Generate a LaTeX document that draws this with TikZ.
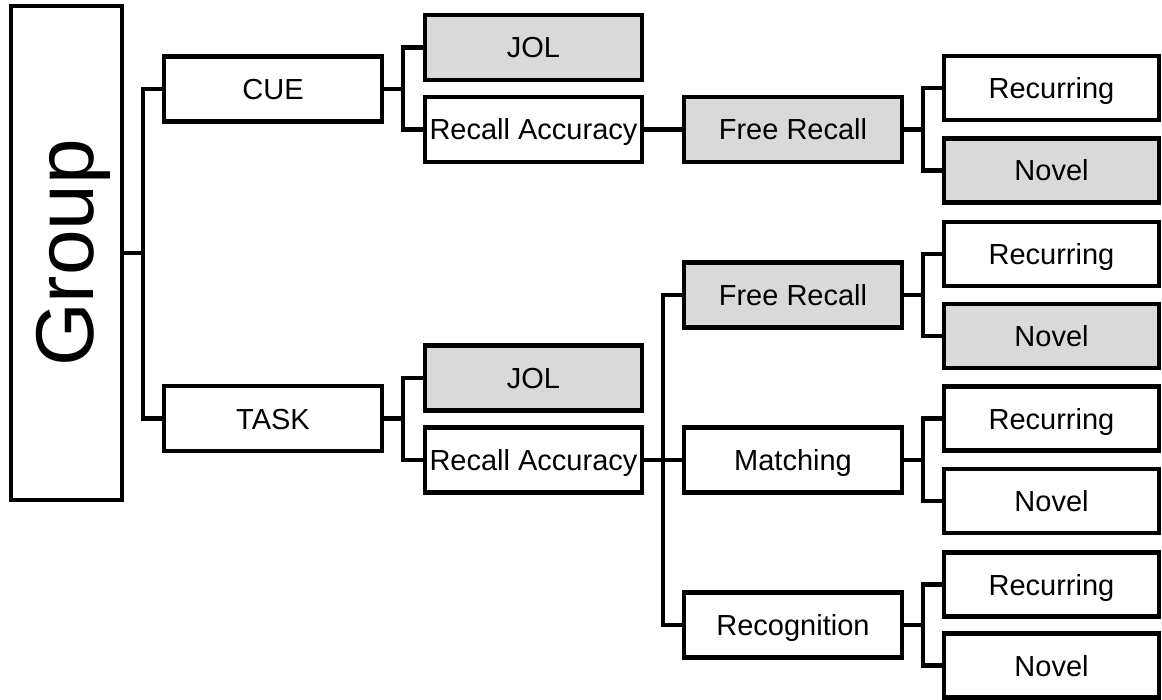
\documentclass[tikz,border=0pt]{standalone}
\usepackage{fontspec}
\setmainfont{Liberation Sans}
\definecolor{boxgray}{HTML}{D9D9D9}
\begin{document}
\begin{tikzpicture}[x=1pt,y=-1pt,
  box/.style={draw, line width=4.4pt, rectangle, inner sep=0pt, outer sep=0pt,
    font=\fontsize{29}{34}\selectfont, text height=21pt, text depth=0pt,
    minimum height=65pt},
  wide/.style={box, minimum width=218pt},
  right/.style={box, minimum width=215pt, minimum height=64pt},
  gray/.style={fill=boxgray},
  link/.style={line width=4.4pt, line join=miter}]
\useasboundingbox (0,0) rectangle (1162,700);
% root
\node[box, minimum width=111pt, minimum height=494pt] (group) at (66.5,253) {};
\node[rotate=90, anchor=base, inner sep=0pt, font=\fontsize{82}{90}\selectfont] (grouptxt) at (93,253) {Group};
% level 1
\node[wide] (cue) at (273,89) {CUE};
\node[wide] (task) at (273,418.5) {TASK};
% level 2
\node[wide, gray, minimum width=217pt] (jol1) at (533.5,47.5) {JOL};
\node[wide, minimum width=217pt] (ra1) at (533.5,129.5) {Recall Accuracy};
\node[wide, gray, minimum width=217pt] (jol2) at (533.5,378) {JOL};
\node[wide, minimum width=217pt] (ra2) at (533.5,460) {Recall Accuracy};
% level 3
\node[wide, gray] (fr1) at (793,129.5) {Free Recall};
\node[wide, gray] (fr2) at (793,295) {Free Recall};
\node[wide] (match) at (793,460) {Matching};
\node[wide] (recog) at (793,625) {Recognition};
% level 4
\node[right] (rec1) at (1051.5,88) {Recurring};
\node[right, gray] (nov1) at (1051.5,170.5) {Novel};
\node[right] (rec2) at (1051.5,254) {Recurring};
\node[right, gray] (nov2) at (1051.5,336) {Novel};
\node[right] (rec3) at (1051.5,418.5) {Recurring};
\node[right] (nov3) at (1051.5,501) {Novel};
\node[right] (rec4) at (1051.5,584.5) {Recurring};
\node[right] (nov4) at (1051.5,665.5) {Novel};
% connectors
\draw[link] (group.east) -- ++(21,0) coordinate (fg);
\draw[link] (cue.west) -| (fg) |- (task.west);
\draw[link] (cue.east) -- ++(21,0) coordinate (fc);
\draw[link] (jol1.west) -| (fc) |- (ra1.west);
\draw[link] (task.east) -- ++(21,0) coordinate (ft);
\draw[link] (jol2.west) -| (ft) |- (ra2.west);
\draw[link] (ra1.east) -- (fr1.west);
\draw[link] (ra2.east) -- ++(21,0) coordinate (fr);
\draw[link] (fr2.west) -| (fr) |- (recog.west);
\draw[link] (fr) -- (match.west);
\draw[link] (fr1.east) -- ++(21,0) coordinate (f1);
\draw[link] (rec1.west) -| (f1) |- (nov1.west);
\draw[link] (fr2.east) -- ++(21,0) coordinate (f2);
\draw[link] (rec2.west) -| (f2) |- (nov2.west);
\draw[link] (match.east) -- ++(21,0) coordinate (f3);
\draw[link] (rec3.west) -| (f3) |- (nov3.west);
\draw[link] (recog.east) -- ++(21,0) coordinate (f4);
\draw[link] (rec4.west) -| (f4) |- (nov4.west);
\end{tikzpicture}
\end{document}
